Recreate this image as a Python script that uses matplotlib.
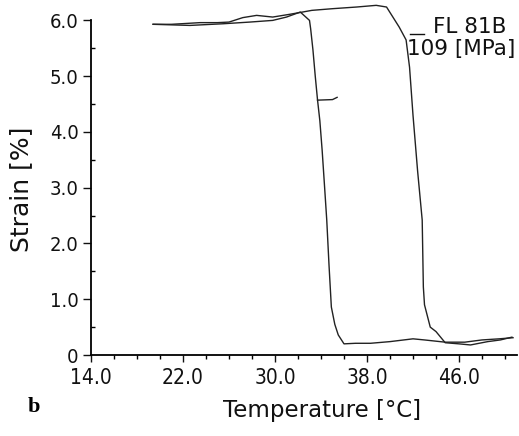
import numpy as np
import matplotlib.pyplot as plt
from matplotlib.lines import Line2D
from matplotlib.ticker import MultipleLocator

# cooling run (hot -> cold), strain in %
cool_T = [50.7, 49.5, 48.0, 46.5, 44.8, 43.0, 42.0, 40.0, 38.3, 37.0, 36.0,
          35.5, 35.2, 34.9, 34.7, 34.5, 34.3, 34.1, 33.9, 33.7, 33.5, 33.3,
          33.1, 33.0, 32.2, 31.0, 29.8, 27.8, 25.5, 22.6, 19.4]
cool_S = [0.31, 0.29, 0.27, 0.23, 0.23, 0.27, 0.29, 0.24, 0.21, 0.21, 0.20,
          0.36, 0.55, 0.86, 1.60, 2.42, 3.05, 3.67, 4.20, 4.57, 5.00, 5.47,
          5.85, 6.00, 6.15, 6.06, 6.00, 5.97, 5.94, 5.91, 5.93]

# heating run (cold -> hot)
heat_T = [19.4, 21.0, 23.5, 25.0, 26.0, 27.2, 28.4, 29.8, 31.3, 32.4, 33.2,
          35.0, 37.1, 38.8, 39.7, 40.8, 41.4, 41.7, 42.0, 42.4, 42.8, 42.9,
          43.0, 43.5, 44.0, 44.8, 46.0, 47.0, 48.5, 49.6, 50.6]
heat_S = [5.93, 5.93, 5.96, 5.96, 5.97, 6.05, 6.09, 6.06, 6.11, 6.15, 6.18,
          6.21, 6.24, 6.27, 6.24, 5.88, 5.65, 5.16, 4.30, 3.30, 2.42, 1.22,
          0.90, 0.50, 0.42, 0.22, 0.20, 0.18, 0.24, 0.27, 0.32]

# little pen mark on the cooling branch
mark_T = [33.7, 35.0, 35.4]
mark_S = [4.57, 4.58, 4.62]

xticks = [14.0, 22.0, 30.0, 38.0, 46.0]
yticks = [0, 1, 2, 3, 4, 5, 6]
ylabels = ['0', '1.0', '2.0', '3.0', '4.0', '5.0', '6.0']

plt.rcParams['font.family'] = ['DejaVu Sans']
plt.rcParams['font.stretch'] = 'condensed'   # tick numbers are narrow
fig = plt.figure(figsize=(5.19, 4.36), dpi=100)
ax = fig.add_axes([91/519, 81/436, 425.5/519, 353/436])

ax.plot(cool_T, cool_S, color='#222222', lw=1.0, clip_on=False)
ax.plot(heat_T, heat_S, color='#222222', lw=1.0, clip_on=False)
ax.plot(mark_T, mark_S, color='#222222', lw=1.0)

ax.set_xlim(14, 51)
ax.set_ylim(0, 6.33)
ax.spines['top'].set_visible(False)
ax.spines['right'].set_visible(False)
ax.spines['left'].set_bounds(0, 6.0)
ax.spines['left'].set_linewidth(1.3)
ax.spines['bottom'].set_linewidth(1.3)

ax.set_xticks(xticks)
ax.set_xticklabels(['%.1f' % t for t in xticks])
ax.xaxis.set_minor_locator(MultipleLocator(2))
ax.set_yticks(yticks)
ax.set_yticklabels(ylabels)
ax.yaxis.set_minor_locator(MultipleLocator(0.5))
ax.tick_params(axis='x', which='major', direction='out', length=5, width=1.0,
               labelsize=15, pad=4, colors='#111111')
ax.tick_params(axis='x', which='minor', direction='out', length=3, width=1.0)
ax.tick_params(axis='y', which='major', direction='out', length=6, width=1.0,
               labelsize=14.5, pad=3, colors='#111111')
ax.tick_params(axis='y', which='minor', direction='in', length=3, width=1.0)

ax.set_xlabel('Temperature [°C]', fontsize=16.5, fontstretch='normal',
              color='#111111')
ax.xaxis.set_label_coords(0.543, -0.125)
ax.set_ylabel('Strain [%]', fontsize=18, fontstretch='normal', color='#111111')
ax.yaxis.set_label_coords(-0.135, 0.47)

fig.text(433/519, 1 - 33/436, 'FL 81B', fontsize=15.5, fontstretch='normal',
         ha='left', va='baseline', color='#111111')
fig.text(407/519, 1 - 55/436, '109 [MPa]', fontsize=15.5, fontstretch='normal',
         ha='left', va='baseline', color='#111111')
fig.add_artist(Line2D([410/519, 424/519], [1 - 34/436, 1 - 34/436],
                      color='#111111', lw=1.0))
fig.text(28/519, 1 - 412/436, 'b', fontsize=16, fontweight='bold',
         family='Liberation Serif', ha='left', va='baseline')

fig.savefig('out.png', dpi=100)
